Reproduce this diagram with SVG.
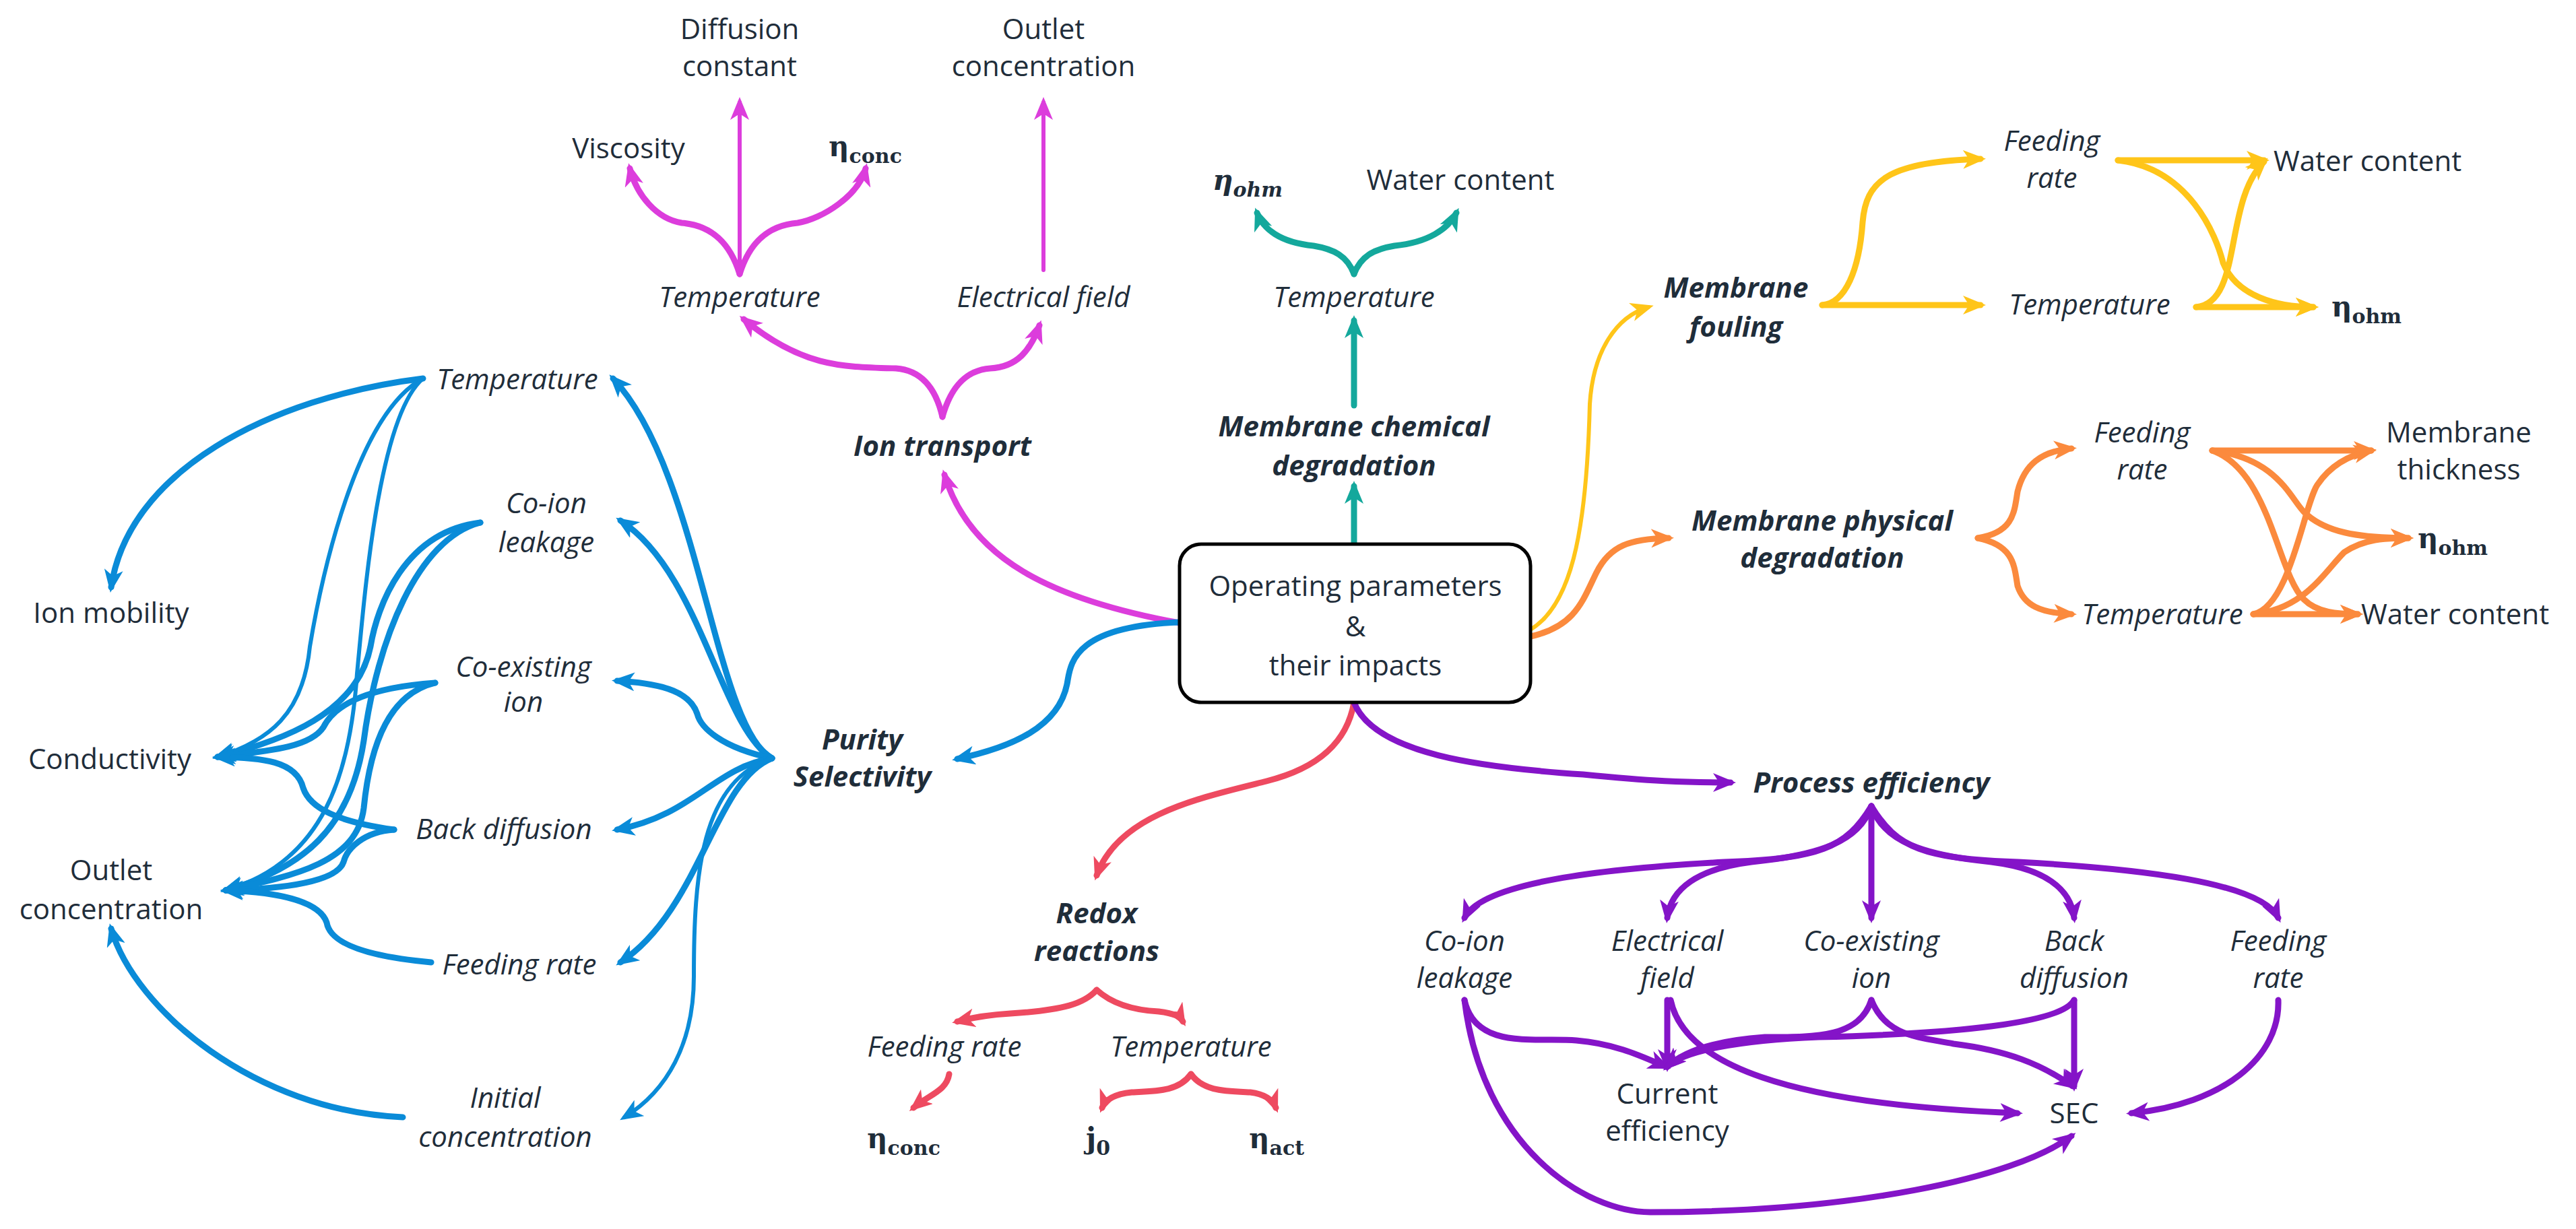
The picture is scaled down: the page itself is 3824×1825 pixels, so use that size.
<svg xmlns="http://www.w3.org/2000/svg" width="3824" height="1825" viewBox="0 0 3824 1825">
<style>
text{font-family:"Open Sans","Noto Sans",sans-serif;font-size:42px;fill:#1f2d3a;text-anchor:middle}
.i{font-style:italic}
.b{font-style:italic;font-weight:bold}
.m{font-family:"DejaVu Serif","Liberation Serif",serif;font-weight:bold;text-anchor:start}
.s{font-size:30px}
path{fill:none;stroke-width:9;stroke-linecap:round}
.t{stroke-width:6}
.mg{stroke:#dc3ddc;marker-end:url(#amg)}
.tl{stroke:#14a89c;marker-end:url(#atl)}
.yl{stroke:#ffc519;marker-end:url(#ayl)}
.or{stroke:#fb8a3d;marker-end:url(#aor)}
.bl{stroke:#0a8bd8;marker-end:url(#abl)}
.rd{stroke:#ee4a60;marker-end:url(#ard)}
.pu{stroke:#8414c8;marker-end:url(#apu)}
</style>
<defs>
<marker id="amg" markerUnits="userSpaceOnUse" markerWidth="34" markerHeight="28" refX="26" refY="14" orient="auto"><path d="M0,0 L34,14 L0,28 L9,14 z" style="fill:#dc3ddc;stroke:none"/></marker>
<marker id="atl" markerUnits="userSpaceOnUse" markerWidth="34" markerHeight="28" refX="26" refY="14" orient="auto"><path d="M0,0 L34,14 L0,28 L9,14 z" style="fill:#14a89c;stroke:none"/></marker>
<marker id="ayl" markerUnits="userSpaceOnUse" markerWidth="34" markerHeight="28" refX="26" refY="14" orient="auto"><path d="M0,0 L34,14 L0,28 L9,14 z" style="fill:#ffc519;stroke:none"/></marker>
<marker id="aor" markerUnits="userSpaceOnUse" markerWidth="34" markerHeight="28" refX="26" refY="14" orient="auto"><path d="M0,0 L34,14 L0,28 L9,14 z" style="fill:#fb8a3d;stroke:none"/></marker>
<marker id="abl" markerUnits="userSpaceOnUse" markerWidth="34" markerHeight="28" refX="26" refY="14" orient="auto"><path d="M0,0 L34,14 L0,28 L9,14 z" style="fill:#0a8bd8;stroke:none"/></marker>
<marker id="ard" markerUnits="userSpaceOnUse" markerWidth="34" markerHeight="28" refX="26" refY="14" orient="auto"><path d="M0,0 L34,14 L0,28 L9,14 z" style="fill:#ee4a60;stroke:none"/></marker>
<marker id="apu" markerUnits="userSpaceOnUse" markerWidth="34" markerHeight="28" refX="26" refY="14" orient="auto"><path d="M0,0 L34,14 L0,28 L9,14 z" style="fill:#8414c8;stroke:none"/></marker>
</defs>
<rect width="3824" height="1825" fill="#fff"/>

<g id="connectors">
<!-- magenta -->
<path class="mg" d="M1751,925 C1560,890 1440,830 1402,705"/>
<path class="mg" d="M1399,619 C1390,580 1370,550 1330,547 C1250,545 1190,545 1104,474"/>
<path class="mg" d="M1399,619 C1410,580 1430,550 1470,547 C1510,545 1530,520 1543,483"/>
<path class="mg t" d="M1098,407 L1098,152"/>
<path class="mg t" d="M1549,401 L1549,152"/>
<path class="mg" d="M1098,407 C1085,365 1060,335 1012,331 C975,325 945,290 935,250"/>
<path class="mg" d="M1098,407 C1111,365 1136,335 1184,331 C1221,325 1275,290 1285,250"/>
<!-- teal -->
<path class="tl" d="M2010,808 L2010,722"/>
<path class="tl" d="M2010,602 L2010,476"/>
<path class="tl" d="M2010,407 C2000,380 1980,370 1950,365 C1900,360 1875,340 1866,316"/>
<path class="tl" d="M2010,407 C2020,380 2040,370 2070,365 C2120,360 2150,340 2162,316"/>
<!-- yellow -->
<path class="yl t" d="M2272,935 C2330,900 2355,800 2360,600 C2365,520 2400,470 2447,456"/>
<path class="yl" d="M2705,453 C2740,450 2760,400 2765,330 C2770,270 2800,240 2940,236"/>
<path class="yl" d="M2705,453 L2940,453"/>
<path class="yl" d="M3144,238 L3361,238"/>
<path class="yl" d="M3144,238 C3250,250 3290,350 3300,390 C3320,440 3380,456 3434,456"/>
<path class="yl" d="M3260,456 L3434,456"/>
<path class="yl" d="M3260,456 C3330,450 3300,300 3361,240"/>
<!-- orange -->
<path class="or" d="M2272,945 C2340,930 2350,890 2370,850 C2390,810 2420,800 2477,799"/>
<path class="or" d="M2936,799 C2990,790 2990,760 2995,730 C3005,690 3030,670 3075,666"/>
<path class="or" d="M2936,799 C2990,810 2990,840 2995,870 C3005,900 3030,910 3075,912"/>
<path class="or" d="M3284,669 L3520,669"/>
<path class="or" d="M3284,669 C3380,680 3400,740 3420,760 C3450,790 3500,799 3575,799"/>
<path class="or" d="M3284,669 C3370,700 3380,850 3420,890 C3440,910 3470,912 3500,912"/>
<path class="or" d="M3345,912 L3500,912"/>
<path class="or" d="M3345,912 C3400,900 3420,750 3440,720 C3460,690 3490,675 3520,669"/>
<path class="or" d="M3345,912 C3420,905 3450,850 3480,820 C3510,800 3540,799 3575,799"/>
<!-- red -->
<path class="rd" d="M2010,1043 C2000,1100 1960,1140 1880,1160 C1780,1185 1660,1210 1628,1300"/>
<path class="rd" d="M1628,1470 C1610,1490 1580,1500 1500,1505 C1450,1508 1430,1515 1421,1517"/>
<path class="rd" d="M1628,1470 C1650,1490 1680,1500 1720,1502 C1745,1505 1752,1510 1756,1517"/>
<path class="rd" d="M1409,1595 C1405,1620 1380,1625 1356,1645"/>
<path class="rd" d="M1768,1595 C1750,1620 1720,1620 1680,1622 C1650,1625 1640,1635 1636,1645"/>
<path class="rd" d="M1768,1595 C1786,1620 1816,1620 1856,1622 C1880,1625 1890,1635 1894,1645"/>
<!-- blue -->
<path class="bl" d="M1751,924 C1600,930 1590,980 1585,1010 C1575,1080 1500,1110 1421,1127"/>
<path class="bl" d="M1146,1126 C1060,1080 1040,700 910,562"/>
<path class="bl" d="M1146,1126 C1070,1080 1040,850 921,773"/>
<path class="bl" d="M1146,1126 C1070,1110 1040,1080 1035,1060 C1025,1030 990,1015 916,1011"/>
<path class="bl" d="M1146,1126 C1060,1140 1030,1210 916,1232"/>
<path class="bl" d="M1146,1126 C1060,1160 1040,1350 921,1429"/>
<path class="bl t" d="M1146,1126 C1040,1160 1030,1300 1030,1450 C1030,1550 990,1620 927,1659"/>
<path class="bl" d="M628,562 C400,590 190,700 165,872"/>
<path class="bl t" d="M628,562 C520,620 470,900 460,960 C450,1060 400,1100 323,1124"/>
<path class="bl t" d="M628,562 C560,620 540,900 530,1000 C520,1150 480,1280 335,1322"/>
<path class="bl" d="M713,776 C600,790 560,900 550,960 C530,1060 420,1100 323,1124"/>
<path class="bl" d="M713,776 C620,800 560,950 540,1100 C520,1230 450,1290 335,1322"/>
<path class="bl" d="M646,1014 C560,1020 500,1040 480,1080 C460,1110 400,1115 323,1124"/>
<path class="bl" d="M646,1014 C580,1030 550,1100 540,1200 C530,1280 440,1300 335,1322"/>
<path class="bl" d="M585,1232 C500,1220 460,1200 450,1170 C440,1130 390,1125 323,1124"/>
<path class="bl" d="M585,1232 C540,1235 515,1260 510,1280 C500,1310 420,1320 335,1322"/>
<path class="bl" d="M640,1429 C540,1420 490,1400 485,1370 C475,1340 420,1325 335,1322"/>
<path class="bl" d="M598,1659 C380,1650 200,1500 165,1379"/>
<!-- purple -->
<path class="pu" d="M2010,1043 C2040,1120 2200,1140 2350,1150 C2450,1160 2500,1162 2569,1162"/>
<path class="pu" d="M2778,1197 C2740,1260 2700,1275 2560,1280 C2380,1290 2200,1310 2174,1363"/>
<path class="pu" d="M2778,1197 C2760,1250 2700,1270 2600,1280 C2520,1290 2480,1320 2475,1363"/>
<path class="pu" d="M2778,1197 L2778,1363"/>
<path class="pu" d="M2778,1197 C2796,1250 2856,1270 2956,1280 C3036,1290 3074,1320 3079,1363"/>
<path class="pu" d="M2778,1197 C2816,1260 2856,1275 2996,1280 C3176,1290 3356,1310 3382,1363"/>
<path class="pu" d="M2174,1485 C2190,1560 2280,1540 2340,1545 C2400,1550 2440,1570 2473,1584"/>
<path class="pu" d="M2174,1485 C2200,1700 2350,1800 2450,1800 C2750,1800 2990,1750 3075,1687"/>
<path class="pu" d="M2475,1485 L2475,1584"/>
<path class="pu" d="M2480,1485 C2500,1580 2650,1640 2995,1653"/>
<path class="pu" d="M2778,1485 C2760,1540 2700,1540 2620,1540 C2550,1545 2500,1560 2475,1584"/>
<path class="pu" d="M2778,1485 C2800,1540 2850,1540 2900,1550 C2980,1560 3030,1580 3077,1613"/>
<path class="pu" d="M3079,1485 C3060,1520 2900,1535 2700,1540 C2580,1545 2500,1560 2475,1584"/>
<path class="pu" d="M3079,1485 L3079,1613"/>
<path class="pu" d="M3382,1485 C3385,1570 3300,1640 3164,1653"/>
</g>

<g id="center"><rect x="1751" y="808" width="521" height="235" rx="32" fill="#fff" stroke="#000" stroke-width="5"/>
<text x="2012" y="885">Operating parameters</text><text x="2012" y="945">&amp;</text><text x="2012" y="1003">their impacts</text></g>

<g id="ion-transport"><text class="b" x="1399" y="677">Ion transport</text></g>
<g id="it-temp"><text class="i" x="1098" y="456">Temperature</text></g>
<g id="it-efield"><text class="i" x="1549" y="456">Electrical field</text></g>
<g id="it-diff"><text x="1098" y="58">Diffusion</text><text x="1098" y="113">constant</text></g>
<g id="it-outlet"><text x="1549" y="58">Outlet</text><text x="1549" y="113">concentration</text></g>
<g id="it-visc"><text x="933" y="235">Viscosity</text></g>
<g id="it-eta"><text class="m" x="1230" y="232">η<tspan class="s" dy="10">conc</tspan></text></g>

<g id="chem"><text class="b" x="2010" y="648">Membrane chemical</text><text class="b" x="2010" y="706">degradation</text></g>
<g id="chem-temp"><text class="i" x="2010" y="456">Temperature</text></g>
<g id="chem-eta"><text class="m" x="1800" y="282" font-style="italic">η<tspan class="s" dy="10">ohm</tspan></text></g>
<g id="chem-water"><text x="2168" y="282">Water content</text></g>

<g id="fouling"><text class="b" x="2577" y="442">Membrane</text><text class="b" x="2577" y="500">fouling</text></g>
<g id="f-feed"><text class="i" x="3046" y="224">Feeding</text><text class="i" x="3046" y="279">rate</text></g>
<g id="f-temp"><text class="i" x="3102" y="467">Temperature</text></g>
<g id="f-water"><text x="3375" y="254" style="text-anchor:start">Water content</text></g>
<g id="f-eta"><text class="m" x="3461" y="470">η<tspan class="s" dy="10">ohm</tspan></text></g>

<g id="phys"><text class="b" x="2705" y="788">Membrane physical</text><text class="b" x="2705" y="843">degradation</text></g>
<g id="p-feed"><text class="i" x="3180" y="657">Feeding</text><text class="i" x="3180" y="712">rate</text></g>
<g id="p-temp"><text class="i" x="3210" y="927">Temperature</text></g>
<g id="p-thick"><text x="3650" y="657">Membrane</text><text x="3650" y="712">thickness</text></g>
<g id="p-eta"><text class="m" x="3589" y="814">η<tspan class="s" dy="10">ohm</tspan></text></g>
<g id="p-water"><text x="3505" y="927" style="text-anchor:start">Water content</text></g>

<g id="redox"><text class="b" x="1628" y="1371">Redox</text><text class="b" x="1628" y="1427">reactions</text></g>
<g id="r-feed"><text class="i" x="1402" y="1569">Feeding rate</text></g>
<g id="r-temp"><text class="i" x="1768" y="1569">Temperature</text></g>
<g id="r-etac"><text class="m" x="1287" y="1705">η<tspan class="s" dy="10">conc</tspan></text></g>
<g id="r-j0"><text class="m" x="1612" y="1705">j<tspan class="s" dy="10">0</tspan></text></g>
<g id="r-etaa"><text class="m" x="1854" y="1705">η<tspan class="s" dy="10">act</tspan></text></g>

<g id="purity"><text class="b" x="1280" y="1113">Purity</text><text class="b" x="1280" y="1168">Selectivity</text></g>
<g id="b-temp"><text class="i" x="768" y="578">Temperature</text></g>
<g id="b-coion"><text class="i" x="811" y="762">Co-ion</text><text class="i" x="811" y="820">leakage</text></g>
<g id="b-coex"><text class="i" x="777" y="1005">Co-existing</text><text class="i" x="777" y="1057">ion</text></g>
<g id="b-back"><text class="i" x="748" y="1246">Back diffusion</text></g>
<g id="b-feed"><text class="i" x="771" y="1447">Feeding rate</text></g>
<g id="b-init"><text class="i" x="750" y="1645">Initial</text><text class="i" x="750" y="1703">concentration</text></g>
<g id="b-mob"><text x="165" y="925">Ion mobility</text></g>
<g id="b-cond"><text x="163" y="1142">Conductivity</text></g>
<g id="b-outlet"><text x="165" y="1307">Outlet</text><text x="165" y="1365">concentration</text></g>

<g id="process"><text class="b" x="2778" y="1177">Process efficiency</text></g>
<g id="pe-coion"><text class="i" x="2174" y="1412">Co-ion</text><text class="i" x="2174" y="1467">leakage</text></g>
<g id="pe-ef"><text class="i" x="2475" y="1412">Electrical</text><text class="i" x="2475" y="1467">field</text></g>
<g id="pe-coex"><text class="i" x="2778" y="1412">Co-existing</text><text class="i" x="2778" y="1467">ion</text></g>
<g id="pe-back"><text class="i" x="3079" y="1412">Back</text><text class="i" x="3079" y="1467">diffusion</text></g>
<g id="pe-feed"><text class="i" x="3382" y="1412">Feeding</text><text class="i" x="3382" y="1467">rate</text></g>
<g id="pe-ce"><text x="2475" y="1639">Current</text><text x="2475" y="1694">efficiency</text></g>
<g id="pe-sec"><text x="3079" y="1668">SEC</text></g>
</svg>
